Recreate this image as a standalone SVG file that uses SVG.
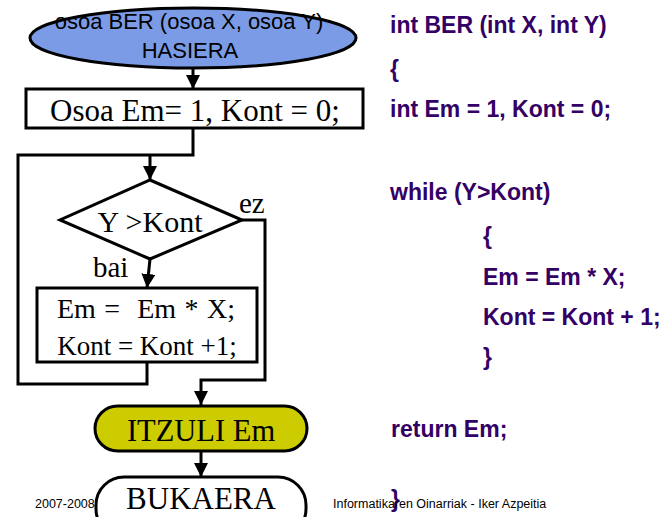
<svg xmlns="http://www.w3.org/2000/svg" width="666" height="517" viewBox="0 0 666 517">
<style>
.ln{fill:none;stroke:#000;stroke-width:3}
.nd{stroke:#000;stroke-width:3}
.tm{font-family:"Liberation Serif",serif;fill:#000}
.ar{font-family:"Liberation Sans",Arial,sans-serif;fill:#000}
.cd{font-family:"Liberation Sans",Arial,sans-serif;font-weight:bold;font-size:23px;fill:#330066}
</style>
<defs>
<marker id="a" viewBox="0 0 12 14" refX="14" refY="7" markerWidth="12" markerHeight="14" markerUnits="userSpaceOnUse" orient="auto">
<path d="M0,0 L14,7 L0,14 z" fill="#000"/>
</marker>
</defs>
<rect width="666" height="517" fill="#fff"/>
<g id="connectors">
<path class="ln" d="M193,68 V89" marker-end="url(#a)"/>
<path class="ln" d="M193,128 V155 H18 V384 H147 V362"/>
<path class="ln" d="M150,155 V180" marker-end="url(#a)"/>
<path class="ln" d="M150,259 L147,288" marker-end="url(#a)"/>
<path class="ln" d="M242,220 H265 V380 H201 V405" marker-end="url(#a)"/>
<path class="ln" d="M201,451 V477" marker-end="url(#a)"/>
</g>
<g id="start">
<ellipse class="nd" cx="193" cy="38" rx="163" ry="30" fill="#7b9be6"/>
<text class="ar" x="189" y="29" font-size="22" text-anchor="middle">osoa BER (osoa X, osoa Y)</text>
<text class="ar" x="190" y="58" font-size="22" text-anchor="middle">HASIERA</text>
</g>
<g id="init">
<rect class="nd" x="26" y="89" width="337" height="39" fill="#fff"/>
<text class="tm" x="195" y="121" font-size="31" text-anchor="middle">Osoa Em= 1, Kont = 0;</text>
</g>
<g id="cond">
<polygon class="nd" points="150,180 242,220 150,259 60,220" fill="#fff"/>
<text class="tm" x="150" y="232" font-size="30" text-anchor="middle">Y &gt;Kont</text>
<text class="tm" x="239" y="213" font-size="29">ez</text>
<text class="tm" x="93" y="277" font-size="29">bai</text>
</g>
<g id="body">
<rect class="nd" x="37" y="288" width="220" height="74" fill="#fff"/>
<text class="tm" x="146" y="318" font-size="28" text-anchor="middle" word-spacing="1.5" xml:space="preserve">Em =  Em * X;</text>
<text class="tm" x="147" y="355" font-size="27" text-anchor="middle">Kont = Kont +1;</text>
</g>
<g id="ret">
<rect class="nd" x="95" y="406" width="212" height="45" rx="22.5" fill="#cccc00"/>
<text class="tm" x="201" y="441" font-size="30.5" text-anchor="middle">ITZULI Em</text>
</g>
<g id="end">
<rect class="nd" x="96" y="477" width="210" height="60" rx="28" fill="#fff"/>
<text class="tm" x="201" y="509" font-size="31" text-anchor="middle">BUKAERA</text>
</g>
<g id="code">
<text class="cd" x="390" y="33">int BER (int X, int Y)</text>
<text class="cd" x="390" y="77">{</text>
<text class="cd" x="390" y="117">int Em = 1, Kont = 0;</text>
<text class="cd" x="390" y="200">while (Y&gt;Kont)</text>
<text class="cd" x="483" y="244">{</text>
<text class="cd" x="483" y="285">Em = Em * X;</text>
<text class="cd" x="483" y="325">Kont = Kont + 1;</text>
<text class="cd" x="483" y="365">}</text>
<text class="cd" x="391" y="437">return Em;</text>
<text class="cd" x="391" y="507">}</text>
</g>
<g id="footer">
<text class="ar" x="35" y="508" font-size="12.5">2007-2008</text>
<text class="ar" x="333" y="508" font-size="12.5">Informatikaren Oinarriak - Iker Azpeitia</text>
</g>
</svg>
